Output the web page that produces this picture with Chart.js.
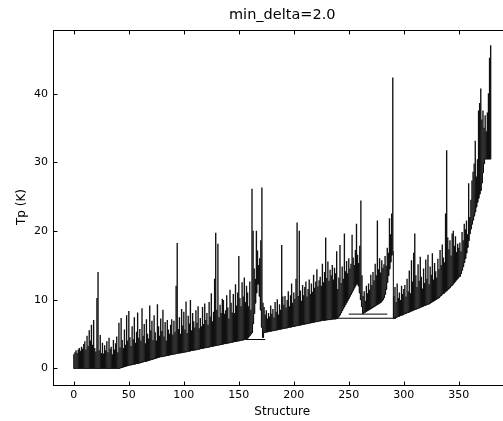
<!DOCTYPE html>
<html>
<head>
<meta charset="utf-8">
<script src="https://cdn.jsdelivr.net/npm/chart.js@4.4.0/dist/chart.umd.min.js"></script>
<style>
  html, body { margin: 0; padding: 0; overflow: hidden; background: #fff; }
  #wrap { width: 530px; height: 421px; }
</style>
</head>
<body>
<div id="wrap"><canvas id="dendro" width="530" height="421"></canvas></div>
<script>
// Leaf merge levels (bottom of each vertical) and peak values (top).
// Leaves are numbered by structure index along the x axis.
const basesA = [
  0, 0, 0, 0, 0, 0, 0, 0, 0, 0,
  0, 0, 0, 0, 0, 0, 0, 0, 0, 0,
  0, 0, 0, 0, 0, 0, 0, 0, 0, 0,
  0, 0, 0, 0, 0, 0, 0, 0, 0, 0,
  0, 0, 0.05, 0.1, 0.15, 0.2, 0.25, 0.3, 0.35, 0.4,
  0.45, 0.5, 0.5, 0.55, 0.6, 0.6, 0.65, 0.7, 0.7, 0.75,
  0.8, 0.85, 0.9, 0.95, 1.0, 1.0, 1.05, 1.1, 1.15, 1.2,
  1.25, 1.3, 1.35, 1.4, 1.45, 1.5, 1.55, 1.6, 1.65, 1.7,
  1.7, 1.75, 1.8, 1.8, 1.85, 1.9, 1.9, 1.95, 2.0, 2.0,
  2.05, 2.1, 2.1, 2.15, 2.2, 2.2, 2.25, 2.25, 2.3, 2.3,
  2.35, 2.4, 2.4, 2.45, 2.5, 2.5, 2.55, 2.6, 2.6, 2.65,
  2.7, 2.7, 2.75, 2.8, 2.8, 2.85, 2.9, 2.9, 2.95, 3.0,
  3.0, 3.05, 3.1, 3.1, 3.15, 3.2, 3.2, 3.25, 3.3, 3.3,
  3.35, 3.4, 3.4, 3.45, 3.5, 3.5, 3.55, 3.6, 3.6, 3.65,
  3.7, 3.7, 3.75, 3.8, 3.8, 3.85, 3.9, 3.9, 3.95, 4.0,
  4.0, 4.05, 4.1, 4.1, 4.15, 4.2, 4.2, 4.2
];
const peaksA = [
  2.0, 2.3, 2.6, 2.2, 2.7, 2.9, 2.5, 3.1, 2.8, 3.5,
  3.9, 2.7, 4.7, 3.2, 5.5, 4.0, 6.3, 3.4, 7.0, 2.9,
  2.4, 10.2, 14.0, 2.6, 4.8, 2.2, 3.7, 2.1, 3.3, 2.6,
  3.9, 2.3, 4.4, 2.8, 3.1, 2.0, 4.1, 2.7, 3.6, 4.6,
  2.3, 6.6, 3.0, 7.3, 4.1, 2.9, 5.6, 3.4, 7.7, 4.0,
  8.3, 4.5, 3.2, 6.1, 4.2, 7.4, 3.7, 5.3, 8.1, 4.4,
  5.7, 4.0, 8.7, 4.7, 6.4, 3.6, 7.1, 5.0, 4.3, 9.1,
  5.5, 6.9, 4.1, 7.7, 5.2, 4.0, 9.3, 6.1, 4.7, 7.2,
  5.4, 8.5, 4.6, 6.7, 4.0, 7.0, 5.6, 5.0, 6.3, 7.1,
  4.9, 6.9, 5.3, 12.0, 18.2, 5.7, 7.4, 5.0, 8.6, 6.2,
  8.2, 5.6, 9.7, 5.1, 7.6, 6.5, 9.9, 5.5, 8.0, 6.8,
  5.9, 8.4, 6.6, 9.0, 5.8, 7.3, 6.1, 8.9, 6.4, 9.4,
  7.0, 8.0, 6.3, 9.6, 7.5, 10.9, 6.8, 8.2, 13.0, 19.7,
  8.5, 18.1, 7.4, 9.2, 8.0, 10.1, 9.9, 7.9, 8.4, 10.6,
  8.8, 7.2, 11.4, 9.5, 8.1, 10.8, 8.0, 12.2, 9.1, 11.0,
  16.3, 10.2, 9.0, 12.5, 10.4, 13.2, 9.6, 12.0
];
const basesSub = [4.4, 4.6, 4.8, 5.0, 5.2, 6.5, 8.0, 9.5, 11.0, 12.3, 12.3, 10.5, 8.5, 6.0, 4.5, 5.2];
const peaksSub = [11.0, 9.0, 12.6, 8.5, 26.1, 20.0, 14.5, 13.0, 20.0, 17.1, 15.0, 16.0, 18.6, 26.3, 9.5, 8.9];
const basesB = [
  5.25, 5.3, 5.3, 5.35, 5.4, 5.4, 5.45, 5.5, 5.5, 5.55,
  5.6, 5.6, 5.65, 5.7, 5.7, 5.75, 5.8, 5.8, 5.85, 5.9,
  5.9, 5.95, 6.0, 6.0, 6.05, 6.1, 6.1, 6.15, 6.2, 6.2,
  6.25, 6.3, 6.3, 6.35, 6.4, 6.4, 6.45, 6.5, 6.5, 6.55,
  6.6, 6.6, 6.65, 6.7, 6.7, 6.75, 6.8, 6.8, 6.85, 6.9,
  6.9, 6.95, 7.0, 7.0, 7.0, 7.05, 7.05, 7.1, 7.1, 7.1,
  7.15, 7.15, 7.2, 7.2, 7.2, 7.25
];
const peaksB = [
  7.8, 8.4, 7.2, 8.0, 7.5, 9.1, 7.9, 8.6, 7.4, 9.6,
  8.2, 10.0, 7.8, 9.3, 8.5, 17.9, 10.4, 9.2, 10.5, 8.8,
  9.9, 11.2, 9.0, 10.6, 12.3, 9.5, 11.0, 10.1, 13.0, 21.2,
  10.5, 20.0, 11.3, 9.8, 12.1, 10.6, 11.8, 12.6, 10.4, 11.5,
  12.9, 10.8, 12.3, 11.1, 13.6, 11.7, 12.6, 14.4, 11.9, 12.8,
  13.3, 12.0, 15.2, 12.5, 14.0, 19.0, 13.1, 15.5, 12.7, 14.3,
  13.5, 15.0, 12.9, 14.6, 13.8, 17.0
];
const basesC = [
  7.4, 7.6, 7.8, 8.1, 8.4, 8.7, 9.0, 9.3, 9.6, 9.9,
  10.2, 10.5, 10.8, 11.1, 11.4, 11.7, 12.0, 12.3, 12.3, 12.0,
  11.0, 10.0, 9.0,
  8.0, 8.1, 8.2, 8.3, 8.4, 8.5, 8.6, 8.7, 8.8, 8.9,
  9.0, 9.1, 9.2, 9.3, 9.4, 9.5, 9.6, 9.8, 10.0, 10.3,
  10.8, 11.5, 12.5, 13.5, 14.5, 15.5, 16.5, 17.0
];
const peaksC = [
  11.5, 13.2, 17.9, 12.4, 14.8, 13.0, 19.6, 14.1, 15.6, 13.8,
  16.0, 14.5, 15.2, 19.4, 16.1, 15.0, 17.2, 21.0, 16.5, 15.3,
  17.8, 24.4, 13.5,
  10.5, 11.2, 9.8, 12.0, 10.9, 12.3, 11.4, 13.6, 12.1, 14.0,
  12.8, 15.2, 13.5, 21.5, 14.4, 16.0, 13.9, 15.7, 14.6, 15.1,
  16.3, 14.9, 17.5, 16.8, 21.8, 19.5, 22.5, 42.3
];
const basesD = [
  7.3, 7.35, 7.4, 7.5, 7.55, 7.6, 7.7, 7.75, 7.8, 7.9,
  7.95, 8.0, 8.1, 8.15, 8.2, 8.3, 8.35, 8.4, 8.5, 8.55,
  8.6, 8.7, 8.75, 8.8, 8.9, 8.95, 9.0, 9.1, 9.15, 9.2,
  9.3, 9.35, 9.4, 9.5, 9.6, 9.7, 9.8, 9.9, 10.0, 10.1,
  10.2, 10.3, 10.5, 10.6, 10.8, 10.9, 11.0, 11.2, 11.3, 11.5,
  11.6, 11.8, 12.0, 12.1, 12.3, 12.5, 12.7, 12.9, 13.1, 13.3,
  13.4, 13.8, 14.3, 14.8, 15.4, 16.0, 16.8, 17.6, 18.6, 19.6,
  20.3, 21.0, 21.6, 22.2, 22.8, 23.5, 24.2, 24.8, 25.4, 25.9,
  27.0, 28.5, 29.8, 30.5, 30.5, 30.5, 30.5, 30.5, 30.5
];
const peaksD = [
  10.5, 11.8, 9.6, 12.3, 10.2, 11.0, 9.9, 12.0, 10.8, 11.5,
  12.1, 10.4, 13.0, 11.2, 14.2, 10.9, 15.7, 12.6, 16.8, 19.6,
  13.5, 11.8, 15.1, 12.7, 16.2, 13.3, 11.6, 14.5, 12.4, 15.8,
  13.0, 16.5, 12.2, 14.8, 13.6, 16.7, 12.9, 15.3, 14.1, 13.2,
  15.9, 14.4, 17.2, 15.0, 18.0, 16.1, 15.4, 22.5, 31.7, 19.0,
  17.3, 18.6, 16.4, 19.6, 20.0, 17.8, 19.2, 16.9, 18.1, 17.5,
  18.3, 17.0, 19.8, 18.6, 21.0, 20.2, 21.5, 19.5, 26.9, 22.0,
  24.5, 27.3, 28.6, 29.8, 33.1, 27.9, 30.4, 37.5, 38.6, 40.7,
  36.2, 37.5, 35.0, 36.8, 34.5, 37.2, 40.0, 45.2, 47.0
];

// horizontal connectors between branches
const linkY = [4.2, 7.3, 7.9];
const linkFrom = [156, 238, 250];
const linkTo = [174, 293, 285];

const xTicks = [0, 50, 100, 150, 200, 250, 300, 350];
const yTicks = [0, 10, 20, 30, 40];

const leafBases = [].concat(basesA, basesSub, basesB, basesC, basesD);
const leafPeaks = [].concat(peaksA, peaksSub, peaksB, peaksC, peaksD);

const font = 'DejaVu Sans';

// matplotlib-classic style frame with inward ticks on all sides
const framePlugin = {
  id: 'frame',
  afterDatasetsDraw(chart) {
    const { ctx, chartArea: a, scales } = chart;
    const l = Math.round(a.left) + 0.5, r = Math.round(a.right) + 0.5;
    const t = Math.round(a.top) + 0.5, b = Math.round(a.bottom) + 0.5;
    ctx.save();
    ctx.strokeStyle = '#000';
    ctx.lineWidth = 1;
    ctx.strokeRect(l, t, r - l, b - t);
    ctx.beginPath();
    xTicks.forEach(v => {
      const px = Math.round(scales.x.getPixelForValue(v)) + 0.5;
      ctx.moveTo(px, b); ctx.lineTo(px, b - 4);
      ctx.moveTo(px, t); ctx.lineTo(px, t + 4);
    });
    yTicks.forEach(v => {
      const py = Math.round(scales.y.getPixelForValue(v)) + 0.5;
      ctx.moveTo(l, py); ctx.lineTo(l + 4, py);
      ctx.moveTo(r, py); ctx.lineTo(r - 4, py);
    });
    ctx.stroke();
    ctx.restore();
  }
};

const linkSets = linkY.map((y, k) => ({
  type: 'line',
  data: [{ x: linkFrom[k], y }, { x: linkTo[k], y }],
  borderColor: '#000',
  borderWidth: 1,
  pointRadius: 0,
  fill: false
}));

new Chart(document.getElementById('dendro'), {
  type: 'bar',
  data: {
    datasets: [
      {
        type: 'bar',
        data: leafPeaks.map((p, i) => ({ x: i, y: [leafBases[i], p] })),
        backgroundColor: '#111',
        borderWidth: 0,
        barThickness: 0.7,
        grouped: false
      },
      {
        type: 'line',
        data: leafBases.map((b, i) => ({ x: i, y: b })),
        borderColor: '#000',
        borderWidth: 1,
        pointRadius: 0,
        stepped: 'middle',
        fill: false
      },
      ...linkSets
    ]
  },
  options: {
    responsive: false,
    animation: false,
    layout: { padding: { left: 0, right: 18.5, top: 0, bottom: 0 } },
    plugins: {
      legend: { display: false },
      tooltip: { enabled: false },
      title: {
        display: true,
        fullSize: false,
        text: 'min_delta=2.0',
        color: '#000',
        font: { family: font, size: 14.5, weight: 'normal' },
        padding: { top: 7, bottom: 5.1 }
      }
    },
    scales: {
      x: {
        type: 'linear',
        min: -18.95,
        max: 397.95,
        offset: false,
        afterFit: s => { s.height = 36.5; },
        afterBuildTicks: s => { s.ticks = xTicks.map(v => ({ value: v })); },
        grid: { display: false, drawTicks: false },
        border: { display: false },
        ticks: { color: '#000', padding: 4, maxRotation: 0, font: { family: font, size: 11 } },
        title: {
          display: true, text: 'Structure', color: '#000',
          font: { family: font, size: 12 }, padding: { top: 0, bottom: 2.3 }
        }
      },
      y: {
        min: -2.35,
        max: 49.35,
        afterFit: s => { s.width = 53; },
        afterBuildTicks: s => { s.ticks = yTicks.map(v => ({ value: v })); },
        grid: { display: false, drawTicks: false },
        border: { display: false },
        ticks: { color: '#000', padding: 5, font: { family: font, size: 11 } },
        title: {
          display: true, text: 'Tp (K)', color: '#000',
          font: { family: font, size: 12 }, padding: { top: 14.8, bottom: 0 }
        }
      }
    }
  },
  plugins: [framePlugin]
});
</script>
</body>
</html>
